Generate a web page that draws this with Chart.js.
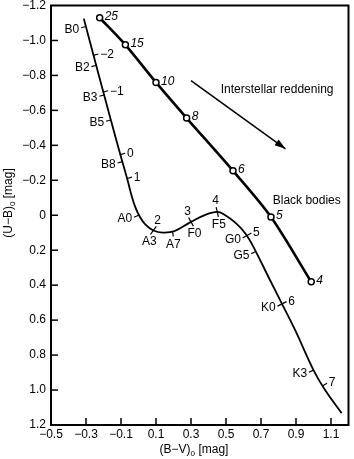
<!DOCTYPE html>
<html>
<head>
<meta charset="utf-8">
<script src="https://cdn.jsdelivr.net/npm/chart.js@4.4.1/dist/chart.umd.min.js"></script>
<style>
  body { margin: 0; background: #fff; }
  canvas { display: block; }
</style>
</head>
<body>
<canvas id="ccd" width="354" height="459"></canvas>
<script>
// main sequence, intrinsic colours (B-V)0 and (U-B)0
const msBV = [-0.3125, -0.257, -0.201, -0.158, -0.104, -0.065, -0.043, -0.02, 0.006, 0.04, 0.085, 0.138, 0.205, 0.30, 0.385, 0.45, 0.489, 0.555, 0.615, 0.669, 0.744, 0.82, 0.896, 1.0, 1.066, 1.161];
const msUB = [-1.125, -0.915, -0.705, -0.545, -0.347, -0.21, -0.125, -0.051, 0.006, 0.054, 0.087, 0.099, 0.091, 0.038, -0.004, -0.019, -0.004, 0.044, 0.11, 0.205, 0.356, 0.507, 0.659, 0.886, 1.0, 1.132];

// spectral type marks on the main sequence
const spTypes = ["B0", "B2", "B3", "B5", "B8", "A0", "A3", "A7", "F0", "F5", "G0", "G5", "K0", "K3"];
const spBV = [-0.30, -0.241, -0.196, -0.158, -0.092, 0.0, 0.085, 0.195, 0.30, 0.45, 0.62, 0.67, 0.82, 1.0];
const spUB = [-1.08, -0.858, -0.688, -0.545, -0.307, 0.0, 0.087, 0.093, 0.038, -0.019, 0.116, 0.207, 0.507, 0.886];

// absolute magnitude marks
const magLabels = ["−2", "−1", "0", "1", "2", "3", "4", "5", "6", "7"];
const magBV = [-0.257, -0.201, -0.104, -0.065, 0.085, 0.30, 0.45, 0.62, 0.82, 1.053];
const magUB = [-0.915, -0.705, -0.347, -0.21, 0.087, 0.038, -0.019, 0.116, 0.507, 0.975];

// black bodies, temperature in 1000 K
const bbTemp = ["25", "15", "10", "8", "6", "5", "4"];
const bbBV = [-0.222, -0.075, 0.10, 0.275, 0.54, 0.757, 0.987];
const bbUB = [-1.13, -0.975, -0.76, -0.556, -0.254, 0.01, 0.381];

// interstellar reddening vector
const redBV = [0.30, 0.84];
const redUB = [-0.77, -0.38];

const xTicks = [-0.5, -0.3, -0.1, 0.1, 0.3, 0.5, 0.7, 0.9, 1.1];
const yTicks = [-1.2, -1.0, -0.8, -0.6, -0.4, -0.2, 0, 0.2, 0.4, 0.6, 0.8, 1.0, 1.2];

const FONT = "'Liberation Sans', Arial, Helvetica, sans-serif";

const fmt = (v) => {
  if (v === 0) return "0";
  return (v < 0 ? "−" : "") + Math.abs(v).toFixed(1);
};

const pts = (xs, ys) => xs.map((x, i) => ({ x: x, y: ys[i] }));

// direction of the main sequence at a given B-V, in pixels
const tangentAt = (sx, sy, bv) => {
  let i = 0;
  while (i < msBV.length - 2 && msBV[i + 1] < bv) i++;
  const dx = sx.getPixelForValue(msBV[i + 1]) - sx.getPixelForValue(msBV[i]);
  const dy = sy.getPixelForValue(msUB[i + 1]) - sy.getPixelForValue(msUB[i]);
  const l = Math.hypot(dx, dy);
  return [dx / l, dy / l];
};

const markLabel = (ctx, px, py, nx, ny, text) => {
  ctx.beginPath();
  ctx.moveTo(px, py);
  ctx.lineTo(px + nx * 5, py + ny * 5);
  ctx.stroke();
  const tx = px + nx * 7;
  const ty = py + ny * 7;
  if (Math.abs(nx) > Math.abs(ny)) {
    ctx.textAlign = nx < 0 ? "right" : "left";
    ctx.textBaseline = "middle";
    ctx.fillText(text, tx, ty + 1);
  } else {
    ctx.textAlign = "center";
    ctx.textBaseline = ny > 0 ? "top" : "bottom";
    ctx.fillText(text, tx, ty + (ny > 0 ? 0 : 2));
  }
};

const subTitle = (ctx, a, sub, b, x, y) => {
  ctx.font = "12px " + FONT;
  const w1 = ctx.measureText(a).width;
  const w3 = ctx.measureText(b).width;
  ctx.font = "8px " + FONT;
  const w2 = ctx.measureText(sub).width;
  let x0 = x - (w1 + w2 + w3) / 2;
  ctx.textAlign = "left";
  ctx.textBaseline = "middle";
  ctx.font = "12px " + FONT;
  ctx.fillText(a, x0, y);
  ctx.font = "8px " + FONT;
  ctx.fillText(sub, x0 + w1, y + 4);
  ctx.font = "12px " + FONT;
  ctx.fillText(b, x0 + w1 + w2, y);
};

const decor = {
  id: "decor",
  afterDatasetsDraw(chart) {
    const ctx = chart.ctx;
    const sx = chart.scales.x;
    const sy = chart.scales.y;
    const a = chart.chartArea;
    ctx.save();
    ctx.strokeStyle = "#000";
    ctx.fillStyle = "#000";

    // frame and inward ticks
    ctx.lineWidth = 2;
    ctx.strokeRect(a.left, a.top, a.right - a.left, a.bottom - a.top);
    ctx.lineWidth = 1.5;
    yTicks.slice(1, -1).forEach((v) => {
      const y = sy.getPixelForValue(v);
      ctx.beginPath();
      ctx.moveTo(a.left, y);
      ctx.lineTo(a.left + 7, y);
      ctx.stroke();
    });
    xTicks.slice(1).forEach((v) => {
      const x = sx.getPixelForValue(v);
      ctx.beginPath();
      ctx.moveTo(x, a.bottom);
      ctx.lineTo(x, a.bottom - 7);
      ctx.stroke();
    });

    // reddening arrow head
    const x1 = sx.getPixelForValue(redBV[0]);
    const y1 = sy.getPixelForValue(redUB[0]);
    const x2 = sx.getPixelForValue(redBV[1]);
    const y2 = sy.getPixelForValue(redUB[1]);
    const l = Math.hypot(x2 - x1, y2 - y1);
    const ux = (x2 - x1) / l;
    const uy = (y2 - y1) / l;
    ctx.beginPath();
    ctx.moveTo(x2, y2);
    ctx.lineTo(x2 - ux * 11 - uy * 3.5, y2 - uy * 11 + ux * 3.5);
    ctx.lineTo(x2 - ux * 11 + uy * 3.5, y2 - uy * 11 - ux * 3.5);
    ctx.closePath();
    ctx.fill();

    // marks on the main sequence
    ctx.lineWidth = 1.2;
    ctx.font = "12px " + FONT;
    spTypes.forEach((s, i) => {
      const t = tangentAt(sx, sy, spBV[i]);
      markLabel(ctx, sx.getPixelForValue(spBV[i]), sy.getPixelForValue(spUB[i]), -t[1], t[0], s);
    });
    magLabels.forEach((s, i) => {
      const t = tangentAt(sx, sy, magBV[i]);
      markLabel(ctx, sx.getPixelForValue(magBV[i]), sy.getPixelForValue(magUB[i]), t[1], -t[0], s);
    });

    // black body temperatures
    ctx.font = "italic 12px " + FONT;
    ctx.textAlign = "left";
    ctx.textBaseline = "middle";
    bbTemp.forEach((s, i) => {
      ctx.fillText(s, sx.getPixelForValue(bbBV[i]) + 5, sy.getPixelForValue(bbUB[i]) - 1);
    });

    ctx.font = "12px " + FONT;
    ctx.fillText("Interstellar reddening", sx.getPixelForValue(0.47), sy.getPixelForValue(-0.72));
    ctx.fillText("Black bodies", sx.getPixelForValue(0.767), sy.getPixelForValue(-0.085));

    // axis titles
    subTitle(ctx, "(B−V)", "0", " [mag]", 194, 450);
    ctx.translate(9, 203);
    ctx.rotate(-Math.PI / 2);
    subTitle(ctx, "(U−B)", "0", " [mag]", 0, 0);
    ctx.restore();
  }
};

new Chart(document.getElementById("ccd"), {
  type: "scatter",
  data: {
    datasets: [
      {
        data: pts(msBV, msUB),
        showLine: true,
        borderColor: "#000",
        borderWidth: 1.8,
        pointRadius: 0,
        tension: 0.4
      },
      {
        data: pts(bbBV, bbUB),
        showLine: true,
        borderColor: "#000",
        borderWidth: 2.6,
        tension: 0.3,
        pointRadius: 3,
        pointBackgroundColor: "#fff",
        pointBorderColor: "#000",
        pointBorderWidth: 1.5
      },
      {
        data: pts(redBV, redUB),
        showLine: true,
        borderColor: "#000",
        borderWidth: 1.5,
        pointRadius: 0
      }
    ]
  },
  options: {
    responsive: false,
    animation: false,
    devicePixelRatio: 1,
    layout: { padding: { top: 5, right: 3, left: 0, bottom: 0 } },
    plugins: { legend: { display: false }, tooltip: { enabled: false } },
    scales: {
      x: {
        type: "linear",
        min: -0.5,
        max: 1.2,
        afterBuildTicks: (s) => { s.ticks = xTicks.map((v) => ({ value: v })); },
        afterFit: (s) => { s.height = 34; s.paddingLeft = 0; s.paddingRight = 0; },
        grid: { display: false, drawTicks: false },
        border: { display: false },
        ticks: { padding: 4, color: "#000", maxRotation: 0, font: { family: FONT, size: 12, lineHeight: 1 }, callback: (v) => fmt(v) }
      },
      y: {
        type: "linear",
        reverse: true,
        min: -1.2,
        max: 1.2,
        afterBuildTicks: (s) => { s.ticks = yTicks.map((v) => ({ value: v })); },
        afterFit: (s) => { s.width = 51; s.paddingTop = 0; s.paddingBottom = 0; },
        grid: { display: false, drawTicks: false },
        border: { display: false },
        ticks: { padding: 5, color: "#000", font: { family: FONT, size: 12, lineHeight: 1 }, callback: (v) => fmt(v) }
      }
    }
  },
  plugins: [decor]
});
</script>
</body>
</html>
